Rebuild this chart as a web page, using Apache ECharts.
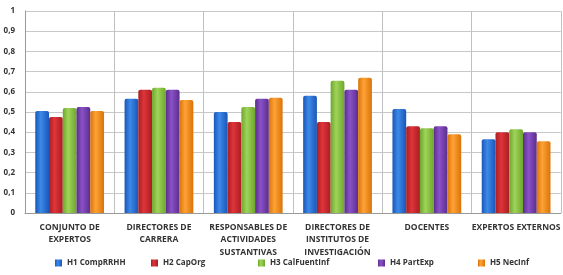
<!DOCTYPE html>
<html>
<head>
<meta charset="utf-8">
<script src="https://cdn.jsdelivr.net/npm/echarts@6/dist/echarts.min.js"></script>
<style>
  html, body { margin: 0; padding: 0; background: #fff; }
  #chart { width: 563px; height: 275px; }
</style>
</head>
<body>
<div id="chart"></div>
<script>
// categorias del eje x
const categories = [
  'CONJUNTO DE\nEXPERTOS',
  'DIRECTORES DE\nCARRERA',
  'RESPONSABLES DE\nACTIVIDADES\nSUSTANTIVAS',
  'DIRECTORES DE\nINSTITUTOS DE\nINVESTIGACIÓN',
  'DOCENTES',
  'EXPERTOS EXTERNOS'
]
const seriesNames = ['H1 CompRRHH', 'H2 CapOrg', 'H3 CalFuentInf', 'H4 PartExp', 'H5 NecInf']
const h1 = [0.505, 0.565, 0.50, 0.58, 0.515, 0.365]
const h2 = [0.475, 0.61, 0.45, 0.45, 0.43, 0.40]
const h3 = [0.52, 0.62, 0.525, 0.655, 0.42, 0.415]
const h4 = [0.525, 0.61, 0.565, 0.61, 0.43, 0.40]
const h5 = [0.505, 0.56, 0.57, 0.67, 0.39, 0.355]
const colors = [
  ['#1a56b8', '#3d8ae8', '#1a56b8'],
  ['#a81e22', '#e0343a', '#a81e22'],
  ['#6fa62c', '#9fd45a', '#6fa62c'],
  ['#5b2d8f', '#8a52c6', '#5b2d8f'],
  ['#d9740a', '#ffa235', '#d9740a']
]
const yTicks = [0, 0.1, 0.2, 0.3, 0.4, 0.5, 0.6, 0.7, 0.8, 0.9, 1]
// posicion x de cada leyenda
const legendLeft = [50, 146, 253, 373, 473]

const chart = echarts.init(document.getElementById('chart'))
const txt = { fontFamily: 'Open Sans', fontWeight: 'bold', fontSize: 8, color: '#333' }

const data = [h1, h2, h3, h4, h5]
chart.setOption({
  backgroundColor: '#fff',
  animation: false,
  grid: { left: 25, top: 11, right: -4, bottom: 62 },
  legend: seriesNames.map((name, i) => ({
    bottom: 3,
    left: legendLeft[i],
    itemWidth: 7,
    itemHeight: 7,
    itemGap: 4,
    icon: 'rect',
    textStyle: txt,
    data: [name]
  })),
  xAxis: {
    type: 'category',
    data: categories,
    axisTick: { show: false },
    axisLine: { lineStyle: { color: '#999' } },
    splitLine: { show: true, lineStyle: { color: '#c0c0c0' } },
    axisLabel: Object.assign({ interval: 0, margin: 8, lineHeight: 12.5 }, txt, { fontSize: 8.5 })
  },
  yAxis: {
    type: 'value',
    min: 0,
    max: 1,
    interval: 0.1,
    axisLine: { show: true, lineStyle: { color: '#999' } },
    axisTick: { show: false },
    splitLine: { lineStyle: { color: '#c8c8c8' } },
    axisLabel: Object.assign({
      margin: 10,
      formatter: v => yTicks.indexOf(Math.round(v * 10) / 10) >= 0 ? String(Math.round(v * 10) / 10).replace('.', ',') : ''
    }, txt)
  },
  series: seriesNames.map((name, i) => ({
    name: name,
    type: 'bar',
    data: data[i],
    barGap: 0,
    barCategoryGap: '23%',
    itemStyle: {
      color: new echarts.graphic.LinearGradient(0, 0, 1, 0, [
        { offset: 0, color: colors[i][0] },
        { offset: 0.4, color: colors[i][1] },
        { offset: 1, color: colors[i][2] }
      ]),
      borderRadius: [2, 2, 0, 0]
    }
  }))
})
</script>
</body>
</html>
